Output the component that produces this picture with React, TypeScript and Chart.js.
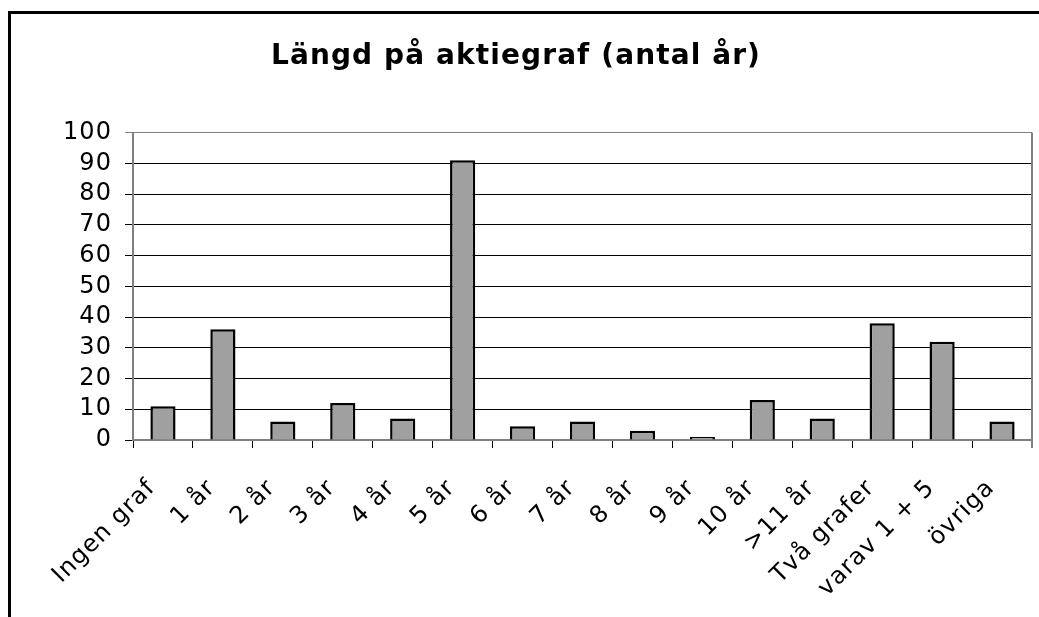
import React, { useEffect, useRef } from "react";
import { Chart, registerables } from "chart.js";

Chart.register(...registerables);

const categories = [
  "Ingen graf", "1 år", "2 år", "3 år", "4 år", "5 år", "6 år", "7 år",
  "8 år", "9 år", "10 år", ">11 år", "Två grafer", "varav 1 + 5", "övriga",
];
const values = [11, 36, 6, 12, 7, 91, 4.5, 6, 3, 1, 13, 7, 38, 32, 6];
const titleText = "Längd på aktiegraf (antal år)";
const yMin = 0;
const yMax = 100;
const yStep = 10;

const FONT = "'DejaVu Sans', Verdana, sans-serif";
const SPACING = "1.1px";

const setSpacing = (chart: any) => {
  try {
    chart.ctx.letterSpacing = SPACING;
  } catch (e) {}
};

const framePlugin = {
  id: "frame",
  afterInit: setSpacing,
  beforeUpdate: setSpacing,
  beforeLayout: setSpacing,
  beforeDraw(chart: any) {
    setSpacing(chart);
    const ctx = chart.ctx;
    ctx.save();
    ctx.fillStyle = "#ffffff";
    ctx.fillRect(0, 0, chart.width, chart.height);
    ctx.restore();
  },
  afterDraw(chart: any) {
    const ctx = chart.ctx;
    const a = chart.chartArea;
    ctx.save();
    ctx.strokeStyle = "#000000";
    ctx.lineWidth = 3;
    ctx.beginPath();
    ctx.moveTo(9.5, chart.height + 5);
    ctx.lineTo(9.5, 12.5);
    ctx.lineTo(chart.width + 5, 12.5);
    ctx.stroke();
    ctx.strokeStyle = "#808080";
    ctx.lineWidth = 2;
    ctx.beginPath();
    ctx.moveTo(a.right, a.top);
    ctx.lineTo(a.right, a.bottom + 8);
    ctx.stroke();
    ctx.restore();
  },
};

export default function App() {
  const ref = useRef<HTMLCanvasElement | null>(null);
  useEffect(() => {
    if (!ref.current) return;
    const chart = new Chart(ref.current, {
      type: "bar",
      data: {
        labels: categories,
        datasets: [
          {
            data: values,
            backgroundColor: "#a0a0a0",
            borderColor: "#000000",
            borderWidth: 2.5,
            barPercentage: 0.42,
            categoryPercentage: 1,
          },
        ],
      },
      options: {
        animation: false,
        responsive: false,
        maintainAspectRatio: false,
        layout: { padding: { left: 0, right: 7, top: 0, bottom: 0 } },
        plugins: {
          legend: { display: false },
          tooltip: { enabled: false },
          title: {
            display: true,
            text: titleText,
            color: "#000000",
            font: { family: FONT, size: 28, weight: "bold" },
            padding: { top: 40, bottom: 59 },
          },
        },
        scales: {
          x: {
            offset: true,
            grid: {
              offset: true,
              drawOnChartArea: false,
              drawTicks: true,
              tickLength: 8,
              color: "#000000",
              lineWidth: 1,
            },
            border: { color: "#808080", width: 2 },
            ticks: {
              color: "#000000",
              font: { family: FONT, size: 24 },
              maxRotation: 45,
              minRotation: 45,
              autoSkip: false,
              padding: 26,
              labelOffset: -11,
            },
            afterFit(scale: any) {
              scale.height = 177;
              scale.paddingLeft = 0;
              scale.paddingRight = 0;
            },
          },
          y: {
            min: yMin,
            max: yMax,
            grid: {
              color: (c: any) => (c.tick && c.tick.value === yMax ? "#808080" : "#000000"),
              lineWidth: 1,
              tickLength: 8,
            },
            border: { color: "#808080", width: 2 },
            ticks: {
              stepSize: yStep,
              autoSkip: false,
              color: "#000000",
              font: { family: FONT, size: 24 },
              padding: 13,
            },
            afterFit(scale: any) {
              scale.width = 133;
            },
          },
        },
      },
      plugins: [framePlugin],
    } as any);
    return () => chart.destroy();
  }, []);
  return (
    <div style={{ position: "fixed", left: 0, top: 0, width: 1039, height: 617, background: "#fff" }}>
      <canvas ref={ref} width={1039} height={617} style={{ display: "block" }} />
    </div>
  );
}
